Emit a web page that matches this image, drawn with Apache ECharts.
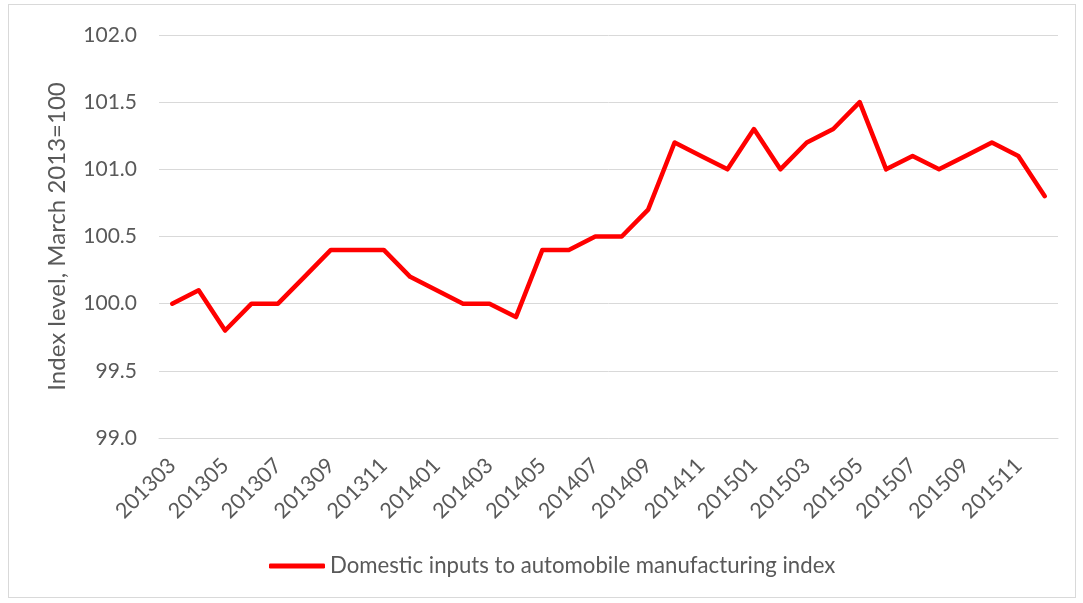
<!DOCTYPE html>
<html><head><meta charset="utf-8">
<script src="https://cdn.jsdelivr.net/npm/echarts@6/dist/echarts.min.js"></script>
<style>
html,body{margin:0;padding:0;background:#fff;}
#frame{position:absolute;left:8px;top:4px;width:1066px;height:592px;border:1px solid #d9d9d9;}
#c{position:absolute;left:0;top:0;width:1083px;height:603px;}
</style></head>
<body><div id="frame"></div><div id="c"></div>
<script>
const categories = ["201303","201304","201305","201306","201307","201308","201309","201310","201311","201312",
"201401","201402","201403","201404","201405","201406","201407","201408","201409","201410","201411","201412",
"201501","201502","201503","201504","201505","201506","201507","201508","201509","201510","201511","201512"];
const values = [100.0,100.1,99.8,100.0,100.0,100.2,100.4,100.4,100.4,100.2,
100.1,100.0,100.0,99.9,100.4,100.4,100.5,100.5,100.7,101.2,101.1,101.0,
101.3,101.0,101.2,101.3,101.5,101.0,101.1,101.0,101.1,101.2,101.1,100.8];
const seriesName = "Domestic inputs to automobile manufacturing index";
const yAxisName = "Index level, March 2013=100";

const chart = echarts.init(document.getElementById('c'));
const font = 'Lato, "Open Sans", sans-serif';
chart.setOption({
  animation:false,
  grid:{left:159,right:25,top:35,bottom:165,containLabel:false},
  xAxis:{type:'category',data:categories,boundaryGap:true,
    axisLine:{show:true,lineStyle:{color:'#d9d9d9',width:1}},
    axisTick:{show:false},
    axisLabel:{interval:1,rotate:45,color:'#595959',fontSize:21.5,fontFamily:font,margin:24}},
  yAxis:{type:'value',min:99,max:102,interval:0.5,
    name:yAxisName,nameLocation:'middle',nameGap:90,nameRotate:90,
    nameTextStyle:{color:'#595959',fontSize:24,fontFamily:font},
    axisLine:{show:false},axisTick:{show:false},
    axisLabel:{color:'#595959',fontSize:21,fontFamily:font,margin:22,formatter:v=>v.toFixed(1)},
    splitLine:{lineStyle:{color:'#d9d9d9',width:1}}},
  legend:{bottom:21,left:264,icon:'roundRect',itemWidth:56,itemHeight:5,itemGap:6,
    textStyle:{color:'#595959',fontSize:22.2,fontFamily:font},
    data:[seriesName]},
  series:[{name:seriesName,type:'line',data:values,symbol:'none',
    lineStyle:{color:'#ff0000',width:4.5,join:'round',cap:'round'},
    itemStyle:{color:'#ff0000'}}]
});
</script></body></html>
